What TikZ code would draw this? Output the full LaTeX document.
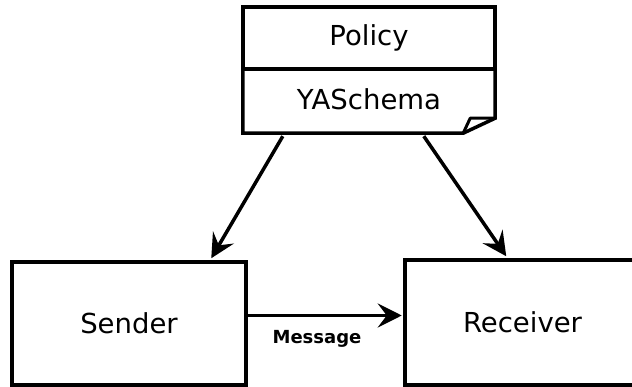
\documentclass[tikz,border=0pt]{standalone}
\usepackage{fontspec}
\setmainfont{DejaVu Sans}
\usetikzlibrary{arrows.meta}
\begin{document}
\begin{tikzpicture}[x=1pt,y=-1pt,
  box/.style={draw=black,line width=3.5pt,rectangle,inner sep=0pt,
    font=\fontsize{27.5}{31}\selectfont},
  plain/.style={rectangle,inner sep=0pt,font=\fontsize{27.5}{31}\selectfont},
  flow/.style={line width=3.5pt,-{Stealth[length=24pt,width=24pt,inset=9pt]}},
  tag/.style={font=\bfseries\fontsize{18}{20}\selectfont,inner sep=0pt}]
\useasboundingbox (0,0) rectangle (632,387);
\clip (0,0) rectangle (632,387);
\fill[white] (0,0) rectangle (632,387);

% policy header and schema note with folded corner
\node[box,minimum width=252pt,minimum height=62pt] (policy) at (369,38) {Policy};
\node[plain,minimum width=252pt,minimum height=64pt] (schema) at (369,101) {};
\node[plain] (schematext) at (369,99) {YASchema};
\draw[line width=3.5pt,line join=miter]
  (schema.north west) -- (schema.south west)
  -- ([xshift=-32pt]schema.south east)
  -- ([yshift=15pt]schema.south east) -- (schema.north east);
\draw[line width=3pt,line join=round]
  ([xshift=-32pt]schema.south east) -- ([xshift=-25pt,yshift=15pt]schema.south east)
  -- ([yshift=15pt]schema.south east);

% endpoints
\node[box,minimum width=234pt,minimum height=123pt] (sender) at (129,323.5) {Sender};
\node[box,minimum width=235pt,minimum height=125pt] (receiver) at (522.5,322.5) {Receiver};

% connectors
\draw[flow] ([xshift=40pt,yshift=-3pt]schema.south west) -- ([xshift=201pt,yshift=2pt]sender.north west);
\draw[flow] ([xshift=181pt,yshift=-3pt]schema.south west) -- ([xshift=103pt,yshift=2pt]receiver.north west);
\draw[flow] ([yshift=8pt]sender.east) -- ([yshift=7pt,xshift=-1.5pt]receiver.west);
\node[tag] (msg) at (317,339) {Message};
\end{tikzpicture}
\end{document}
